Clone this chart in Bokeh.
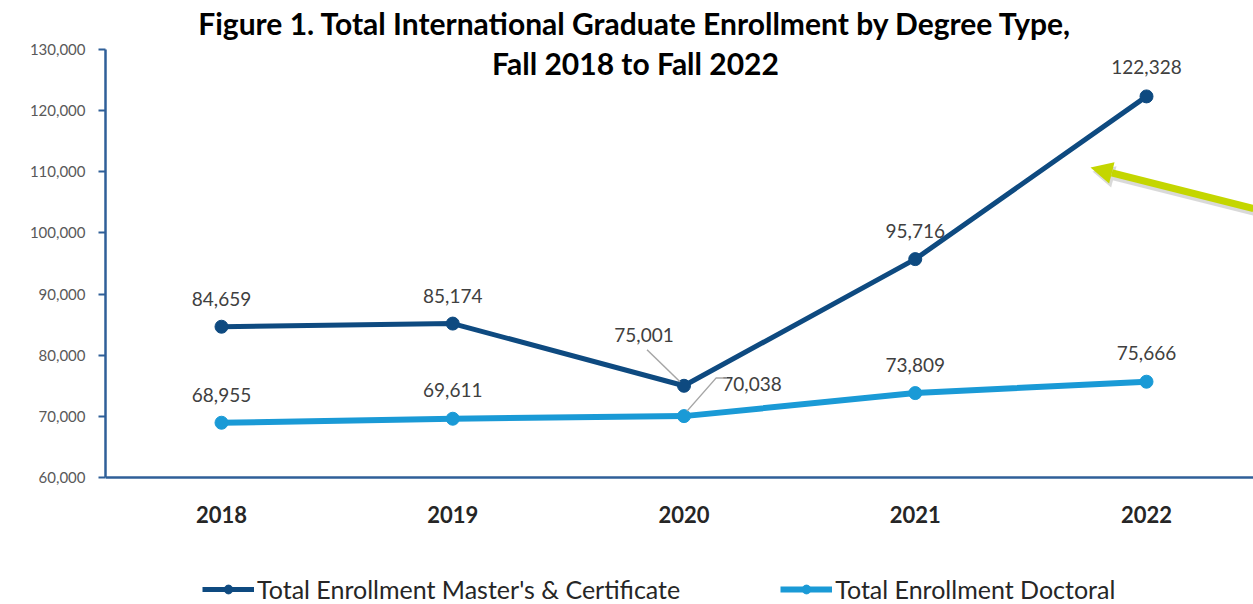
from bokeh.plotting import figure
from bokeh.models import (Range1d, FixedTicker, NumeralTickFormatter, Legend, LegendItem,
                          Label, Arrow, NormalHead, ColumnDataSource, Span)
from bokeh.core.properties import value
from bokeh.embed import file_html
from bokeh.resources import INLINE

# ---- data ----
years = ["2018", "2019", "2020", "2021", "2022"]
masters = [84659, 85174, 75001, 95716, 122328]
doctoral = [68955, 69611, 70038, 73809, 75666]
series_names = ["Total Enrollment Master's & Certificate", "Total Enrollment Doctoral"]
title_lines = ["Figure 1. Total International Graduate Enrollment by Degree Type,",
               "Fall 2018 to Fall 2022"]
y_ticks = [60000, 70000, 80000, 90000, 100000, 110000, 120000, 130000]
y_min, y_max = 60000, 130000

# ---- style ----
NAVY = "#0E4A80"
LIGHT = "#1A9AD6"
AXIS = "#2F5F98"
FONT = "Lato"

W, H = 1253, 604
BL = 105                 # left border (y axis)
FW, FH = W - BL, H       # frame size
PX_PER_CAT = 231.25      # px between categories
AX_TOP, AX_BOT = 49, 477 # pixel rows of y_max / y_min
pxy = (AX_BOT - AX_TOP) / (y_max - y_min)
x0 = -(221 - BL) / PX_PER_CAT
x1 = x0 + FW / PX_PER_CAT
y0 = y_min - (H - AX_BOT) / pxy
y1 = y_max + AX_TOP / pxy
pxx = PX_PER_CAT

p = figure(width=W, height=H, output_backend="svg", toolbar_location=None,
           x_range=Range1d(x0, x1), y_range=Range1d(y0, y1), x_axis_location=None,
           min_border_left=BL, min_border_right=0, min_border_top=0, min_border_bottom=0)
p.outline_line_color = None
p.grid.visible = False
p.background_fill_color = "white"
p.border_fill_color = "white"

xs = list(range(len(years)))

# y axis
p.yaxis.ticker = FixedTicker(ticks=y_ticks)
p.yaxis.bounds = (y_min, y_max)
p.yaxis.formatter = NumeralTickFormatter(format="0,0")
p.yaxis.axis_line_color = AXIS
p.yaxis.axis_line_width = 2.5
p.yaxis.major_tick_line_color = AXIS
p.yaxis.major_tick_line_width = 2
p.yaxis.major_tick_out = 7
p.yaxis.major_tick_in = 0
p.yaxis.minor_tick_line_color = None
p.yaxis.major_label_text_font = FONT
p.yaxis.major_label_text_font_size = "15px"
p.yaxis.major_label_text_color = "#595959"
p.yaxis.major_label_standoff = 13

# x axis line at y_min and category labels
p.add_layout(Span(location=y_min, dimension="width", line_color=AXIS, line_width=2.5))
p.text(x=xs, y=[y_min] * len(xs), text=years, y_offset=37,
       text_font=value(FONT), text_font_size="22px", text_font_style="bold",
       text_color="#262626", text_align="center", text_baseline="middle")

# lines
l1 = p.line(xs, masters, line_color=NAVY, line_width=5)
s1 = p.scatter(xs, masters, size=13, fill_color=NAVY, line_color=NAVY)
l2 = p.line(xs, doctoral, line_color=LIGHT, line_width=6)
s2 = p.scatter(xs, doctoral, size=13, fill_color=LIGHT, line_color=LIGHT)

# data labels (pixel offsets per point)
m_dx = [0, 0, -40, 0, 0]
m_dy = [-28, -28, -51, -28, -29]
d_dx = [0, 0, 68, 0, 0]
d_dy = [-28, -29, -32, -28, -29]
lab_src = ColumnDataSource(dict(
    x=xs + xs,
    y=masters + doctoral,
    t=[f"{v:,}" for v in masters] + [f"{v:,}" for v in doctoral],
    dx=m_dx + d_dx,
    dy=m_dy + d_dy,
))
p.text(x="x", y="y", text="t", x_offset="dx", y_offset="dy", source=lab_src,
       text_font=value(FONT), text_font_size="19px", text_color="#404040",
       text_align="center", text_baseline="middle")

# leader lines (pixel offsets converted to data units)
def pt(i, series, ox, oy):
    return xs[i] + ox / pxx, series[i] + oy / pxy

i20 = years.index("2020")
a = [pt(i20, masters, -37, 36), pt(i20, masters, -4, 4)]
b = [pt(i20, doctoral, 3, 5), pt(i20, doctoral, 32, 38), pt(i20, doctoral, 43, 38)]
p.multi_line(xs=[[q[0] for q in a], [q[0] for q in b]],
             ys=[[q[1] for q in a], [q[1] for q in b]],
             line_color="#A6A6A6", line_width=1.5)

# title (screen units relative to the frame's bottom-left corner)
for txt, yy in zip(title_lines, [22, 62]):
    p.add_layout(Label(x=635 - BL, y=H - yy, x_units="screen", y_units="screen", text=txt,
                       text_font=FONT, text_font_style="bold", text_font_size="30px",
                       text_color="#000000", text_align="center", text_baseline="middle"))

# green arrow with shadow
sx0, sy0, ex0, ey0 = W - BL, H - 208, 1090 - BL, H - 167
p.add_layout(Arrow(end=NormalHead(size=22, fill_color="#808080", line_color=None, fill_alpha=0.3),
                   x_start=sx0 + 2, y_start=sy0 - 4, x_end=ex0 + 2, y_end=ey0 - 4,
                   start_units="screen", end_units="screen",
                   line_color="#808080", line_alpha=0.3, line_width=7))
p.add_layout(Arrow(end=NormalHead(size=22, fill_color="#C4D600", line_color=None),
                   x_start=sx0, y_start=sy0, x_end=ex0, y_end=ey0,
                   start_units="screen", end_units="screen",
                   line_color="#C4D600", line_width=7))

# legend (inside the extended frame, below the x axis)
legend = Legend(items=[LegendItem(label=series_names[0], renderers=[l1, s1]),
                       LegendItem(label=series_names[1], renderers=[l2, s2])],
                orientation="horizontal", location=(97, 0),
                label_text_font=FONT, label_text_font_size="25px", label_text_color="#262626",
                glyph_width=52, glyph_height=22, label_standoff=3, spacing=100,
                border_line_color=None, background_fill_alpha=0,
                padding=0, margin=0)
p.add_layout(legend, "center")

open("out.html", "w").write(file_html(p, INLINE))
